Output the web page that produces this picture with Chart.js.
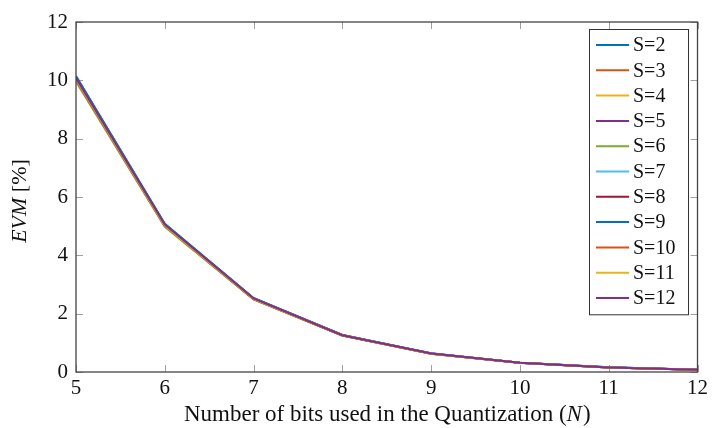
<!DOCTYPE html>
<html>
<head>
<meta charset="utf-8">
<script src="https://cdn.jsdelivr.net/npm/chart.js@4/dist/chart.umd.min.js"></script>
<style>
  html, body { margin: 0; padding: 0; background: #fff; }
  #wrap { width: 712px; height: 428px; }
</style>
</head>
<body>
<div id="wrap"><canvas id="evmChart" width="712" height="428"></canvas></div>
<script>
// quantization bits on the x axis
const bits = [5, 6, 7, 8, 9, 10, 11, 12];

// EVM [%] per number of sub-bands S
const evmS2  = [10.15, 5.08, 2.54, 1.27, 0.640, 0.318, 0.160, 0.080];
const evmS3  = [10.00, 5.00, 2.50, 1.25, 0.627, 0.313, 0.157, 0.078];
const evmS4  = [10.03, 5.02, 2.50, 1.25, 0.629, 0.314, 0.157, 0.079];
const evmS5  = [10.07, 5.04, 2.51, 1.26, 0.631, 0.316, 0.158, 0.079];
const evmS6  = [9.96, 4.98, 2.49, 1.25, 0.624, 0.312, 0.156, 0.078];
const evmS7  = [10.10, 5.06, 2.52, 1.27, 0.633, 0.317, 0.159, 0.079];
const evmS8  = [10.05, 5.03, 2.51, 1.26, 0.630, 0.315, 0.158, 0.079];
const evmS9  = [10.13, 5.07, 2.53, 1.27, 0.635, 0.317, 0.159, 0.080];
const evmS10 = [10.01, 5.01, 2.50, 1.25, 0.627, 0.314, 0.157, 0.079];
const evmS11 = [10.04, 5.02, 2.51, 1.26, 0.629, 0.315, 0.158, 0.079];
const evmS12 = [10.08, 5.05, 2.52, 1.26, 0.632, 0.316, 0.158, 0.079];

const seriesLabels = ['S=2', 'S=3', 'S=4', 'S=5', 'S=6', 'S=7', 'S=8', 'S=9', 'S=10', 'S=11', 'S=12'];
const seriesValues = [evmS2, evmS3, evmS4, evmS5, evmS6, evmS7, evmS8, evmS9, evmS10, evmS11, evmS12];

const xTicks = [5, 6, 7, 8, 9, 10, 11, 12];
const yTicks = [0, 2, 4, 6, 8, 10, 12];

const palette = ['#0072BD', '#D95319', '#EDB120', '#7E2F8E', '#77AC30', '#4DBEEE', '#A2142F'];
const serif = '"Liberation Serif", "DejaVu Serif", serif';

// later series are painted over earlier ones
const datasets = seriesLabels.map((label, i) => ({
    label: label,
    data: bits.map((b, j) => ({ x: b, y: seriesValues[i][j] })),
    borderColor: palette[i % palette.length],
    backgroundColor: palette[i % palette.length],
    borderWidth: 2,
    pointRadius: 0,
    tension: 0,
    fill: false,
    order: seriesLabels.length - i
}));

// frame, inward tick marks on all four sides, axis titles and the boxed legend
const framePlugin = {
    id: 'frame',
    beforeDatasetsDraw(chart) {
        const { ctx, chartArea: a, scales } = chart;
        ctx.save();
        ctx.strokeStyle = '#a0a0a0';
        ctx.lineWidth = 1;
        const len = 7;
        xTicks.forEach(v => {
            const px = Math.round(scales.x.getPixelForValue(v)) + 0.5;
            ctx.beginPath();
            ctx.moveTo(px, a.bottom); ctx.lineTo(px, a.bottom - len);
            ctx.moveTo(px, a.top); ctx.lineTo(px, a.top + len);
            ctx.stroke();
        });
        yTicks.forEach(v => {
            const py = Math.round(scales.y.getPixelForValue(v)) + 0.5;
            ctx.beginPath();
            ctx.moveTo(a.left, py); ctx.lineTo(a.left + len, py);
            ctx.moveTo(a.right, py); ctx.lineTo(a.right - len, py);
            ctx.stroke();
        });
        ctx.restore();
    },
    afterDatasetsDraw(chart) {
        const { ctx, chartArea: a } = chart;
        ctx.save();
        ctx.strokeStyle = '#444';
        ctx.lineWidth = 1.3;
        ctx.strokeRect(a.left, a.top, a.right - a.left, a.bottom - a.top);

        // legend box
        const bx = 589, by = 29, bw = 99, rowH = 25.3;
        const bh = rowH * seriesLabels.length + 7;
        ctx.fillStyle = '#fff';
        ctx.fillRect(bx, by, bw, bh);
        ctx.strokeStyle = '#333';
        ctx.lineWidth = 1;
        ctx.strokeRect(bx + 0.5, by + 0.5, bw, bh);
        ctx.font = '20px ' + serif;
        ctx.textBaseline = 'middle';
        chart.data.datasets.forEach((ds, i) => {
            const cy = by + 16 + i * rowH;
            ctx.strokeStyle = ds.borderColor;
            ctx.lineWidth = 2;
            ctx.beginPath();
            ctx.moveTo(bx + 7, cy); ctx.lineTo(bx + 40, cy);
            ctx.stroke();
            ctx.fillStyle = '#111';
            ctx.fillText(ds.label, bx + 44, cy + 1);
        });

        // y axis title: italic EVM followed by [%]
        ctx.fillStyle = '#111';
        ctx.translate(20, 201);
        ctx.rotate(-Math.PI / 2);
        ctx.font = 'italic 22px ' + serif;
        const w1 = ctx.measureText('EVM').width;
        ctx.font = '22px ' + serif;
        const w2 = ctx.measureText(' [%]').width;
        let sx = -(w1 + w2) / 2;
        ctx.textBaseline = 'middle';
        ctx.textAlign = 'left';
        ctx.font = 'italic 22px ' + serif;
        ctx.fillText('EVM', sx, 0);
        ctx.font = '22px ' + serif;
        ctx.fillText(' [%]', sx + w1, 0);
        ctx.restore();

        // x axis title with italic N
        ctx.save();
        ctx.fillStyle = '#111';
        ctx.textBaseline = 'middle';
        const p1 = 'Number of bits used in the Quantization (';
        const p3 = ')';
        ctx.font = '23px ' + serif;
        const a1 = ctx.measureText(p1).width;
        const a3 = ctx.measureText(p3).width;
        ctx.font = 'italic 23px ' + serif;
        const a2 = ctx.measureText('N').width;
        let tx = (a.left + a.right) / 2 - (a1 + a2 + a3) / 2;
        const ty = 415;
        ctx.font = '23px ' + serif;
        ctx.fillText(p1, tx, ty);
        ctx.font = 'italic 23px ' + serif;
        ctx.fillText('N', tx + a1, ty);
        ctx.font = '23px ' + serif;
        ctx.fillText(p3, tx + a1 + a2 + 1, ty);
        ctx.restore();
    }
};

new Chart(document.getElementById('evmChart').getContext('2d'), {
    type: 'line',
    data: { datasets: datasets },
    options: {
        responsive: false,
        animation: false,
        layout: { padding: { left: 0, right: 11, top: 22, bottom: 0 } },
        plugins: {
            legend: { display: false },
            tooltip: { enabled: false }
        },
        scales: {
            x: {
                type: 'linear',
                min: 5,
                max: 12,
                afterFit: s => { s.height = 56; },
                afterBuildTicks: s => { s.ticks = xTicks.map(v => ({ value: v })); },
                grid: { display: false, drawTicks: false },
                border: { display: false },
                ticks: { color: '#111', font: { family: serif, size: 21 }, padding: 4, maxRotation: 0 }
            },
            y: {
                min: 0,
                max: 12,
                afterFit: s => { s.width = 76; },
                afterBuildTicks: s => { s.ticks = yTicks.map(v => ({ value: v })); },
                grid: { display: false, drawTicks: false },
                border: { display: false },
                ticks: { color: '#111', font: { family: serif, size: 21 }, padding: 8 }
            }
        }
    },
    plugins: [framePlugin]
});
</script>
</body>
</html>
